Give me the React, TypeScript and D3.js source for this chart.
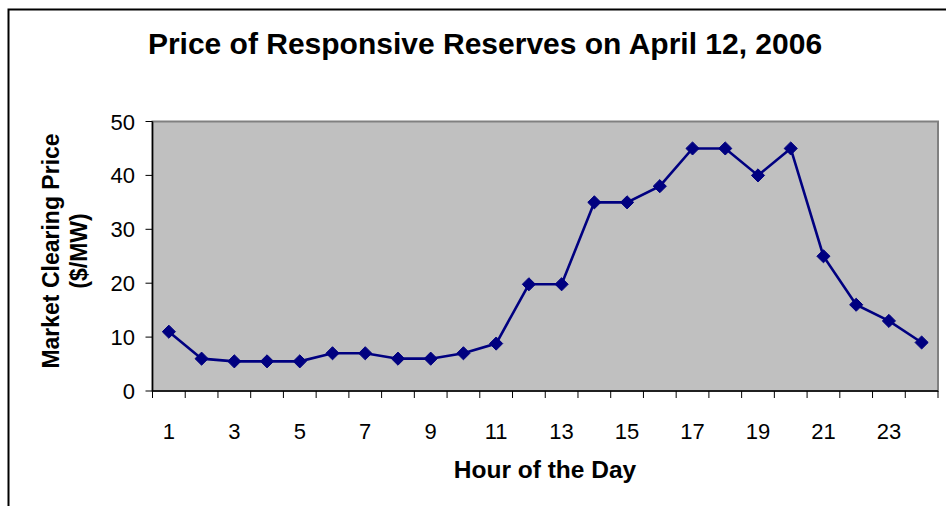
import React, { useEffect, useRef } from 'react';
import * as d3 from 'd3';

const hours = d3.range(1, 25);
const prices = [11, 6, 5.5, 5.5, 5.5, 7, 7, 6, 6, 7, 8.8, 19.8, 19.8, 35, 35, 38, 45, 45, 40, 45, 25, 16, 13, 9];
const yTicks = [0, 10, 20, 30, 40, 50];
const xLabels = [1, 3, 5, 7, 9, 11, 13, 15, 17, 19, 21, 23];

const App = () => {
  const ref = useRef<SVGSVGElement>(null);

  useEffect(() => {
    const width = 946, height = 506;
    const left = 152.5, right = 938, top = 121.5, bottom = 391;
    const font = 'Arial, "Liberation Sans", sans-serif';

    const svg = d3.select(ref.current);
    svg.selectAll('*').remove();

    // outer frame
    svg.append('path')
      .attr('d', `M8.5,${height} V9.5 H${width}`)
      .attr('fill', 'none')
      .attr('stroke', '#000')
      .attr('stroke-width', 2);

    svg.append('text')
      .attr('x', 485)
      .attr('y', 54)
      .attr('text-anchor', 'middle')
      .style('font-family', font)
      .style('font-weight', 'bold')
      .style('font-size', '30px')
      .text('Price of Responsive Reserves on April 12, 2006');

    const x = d3.scaleBand<number>().domain(hours).range([left, right]);
    const y = d3.scaleLinear().domain([0, 50]).range([bottom, top]);

    // plot area
    svg.append('rect')
      .attr('x', left).attr('y', top)
      .attr('width', right - left).attr('height', bottom - top)
      .attr('fill', '#c0c0c0')
      .attr('stroke', '#808080')
      .attr('stroke-width', 2);

    // y axis
    const yAxis = svg.append('g');
    yAxis.append('line')
      .attr('x1', left).attr('x2', left)
      .attr('y1', top).attr('y2', bottom)
      .attr('stroke', '#000').attr('stroke-width', 1.5);
    yAxis.selectAll('.tick')
      .data(yTicks)
      .enter()
      .append('line')
      .attr('x1', left - 7).attr('x2', left)
      .attr('y1', d => y(d)).attr('y2', d => y(d))
      .attr('stroke', '#000');
    yAxis.selectAll('text')
      .data(yTicks)
      .enter()
      .append('text')
      .attr('x', 135)
      .attr('y', d => y(d) + 8)
      .attr('text-anchor', 'end')
      .style('font-family', font)
      .style('font-size', '22px')
      .text(d => d);

    // x axis
    const xAxis = svg.append('g');
    xAxis.append('line')
      .attr('x1', left).attr('x2', right)
      .attr('y1', bottom).attr('y2', bottom)
      .attr('stroke', '#000').attr('stroke-width', 1.5);
    xAxis.selectAll('.tick')
      .data(hours.concat([25]))
      .enter()
      .append('line')
      .attr('x1', d => d <= 24 ? x(d)! : right)
      .attr('x2', d => d <= 24 ? x(d)! : right)
      .attr('y1', bottom).attr('y2', bottom + 7)
      .attr('stroke', '#000');
    xAxis.selectAll('text')
      .data(xLabels)
      .enter()
      .append('text')
      .attr('x', d => x(d)! + x.bandwidth() / 2)
      .attr('y', 439)
      .attr('text-anchor', 'middle')
      .style('font-family', font)
      .style('font-size', '22px')
      .text(d => d);

    svg.append('text')
      .attr('x', 545)
      .attr('y', 478)
      .attr('text-anchor', 'middle')
      .style('font-family', font)
      .style('font-weight', 'bold')
      .style('font-size', '24.5px')
      .text('Hour of the Day');

    const yTitle = svg.append('text')
      .attr('transform', 'translate(59, 251) rotate(-90)')
      .attr('text-anchor', 'middle')
      .style('font-family', font)
      .style('font-weight', 'bold')
      .style('font-size', '23px');
    yTitle.append('tspan').attr('x', 0).attr('y', 0).text('Market Clearing Price');
    yTitle.append('tspan').attr('x', 0).attr('y', 28).text('($/MW)');

    // series
    const data = hours.map((h, i) => ({ h, v: prices[i] }));
    const line = d3.line<{ h: number; v: number }>()
      .x(d => x(d.h)! + x.bandwidth() / 2)
      .y(d => y(d.v));

    svg.append('path')
      .datum(data)
      .attr('d', line)
      .attr('fill', 'none')
      .attr('stroke', '#000080')
      .attr('stroke-width', 2.6);

    const diamond = d3.symbol().type(d3.symbolDiamond2).size(110);
    svg.selectAll('.pt')
      .data(data)
      .enter()
      .append('path')
      .attr('transform', d => `translate(${x(d.h)! + x.bandwidth() / 2}, ${y(d.v)})`)
      .attr('d', diamond)
      .attr('fill', '#000080')
      .attr('stroke', '#000080')
      .attr('stroke-width', 1);
  }, []);

  return <svg ref={ref} width={946} height={506} style={{ position: 'absolute', left: 0, top: 0 }} />;
};

export default App;
